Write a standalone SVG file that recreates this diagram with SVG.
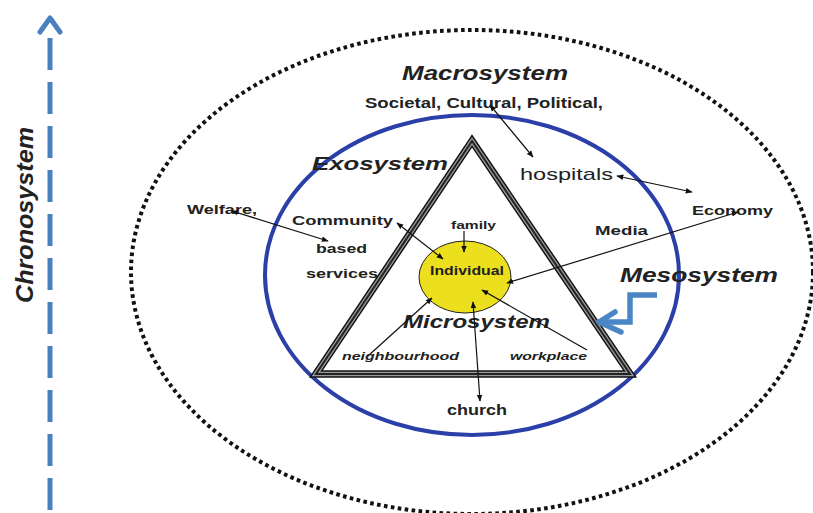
<svg xmlns="http://www.w3.org/2000/svg" width="813" height="513" viewBox="0 0 813 513">
<defs>
<marker id="ah" viewBox="0 0 10 10" refX="9" refY="5" markerWidth="7" markerHeight="7" orient="auto-start-reverse" markerUnits="userSpaceOnUse">
<path d="M0,1 L10,5 L0,9 Z" fill="#111"/>
</marker>
</defs>
<style>
text{font-family:"Liberation Sans",Arial,sans-serif;fill:#222;}
.b{font-weight:bold;}
.bi{font-weight:bold;font-style:italic;}
.con{stroke:#111;stroke-width:1.2;fill:none;marker-end:url(#ah);}
.dbl{marker-start:url(#ah);}
</style>
<rect width="813" height="513" fill="#fff"/>
<g id="chronosystem">
<line x1="50" y1="510" x2="50" y2="28" stroke="#4a80bf" stroke-width="5" stroke-dasharray="32 12"/>
<polyline points="40,32 50,18 60,32" fill="none" stroke="#4a80bf" stroke-width="5" stroke-linejoin="round" stroke-linecap="round"/>
<text class="bi" transform="translate(33,303) rotate(-90)" font-size="24" textLength="176" lengthAdjust="spacingAndGlyphs">Chronosystem</text>
</g>
<g id="macrosystem">
<ellipse cx="472" cy="272" rx="341" ry="242" fill="none" stroke="#111" stroke-width="4" stroke-dasharray="3.6 3.4"/>
<text class="bi" x="402" y="80" font-size="20" textLength="166" lengthAdjust="spacingAndGlyphs">Macrosystem</text>
<text class="b" x="365" y="108" font-size="14" textLength="238" lengthAdjust="spacingAndGlyphs">Societal, Cultural, Political,</text>
<text x="520" y="180" font-size="17" textLength="93" lengthAdjust="spacingAndGlyphs">hospitals</text>
<text class="b" x="187" y="214" font-size="13.5" textLength="70" lengthAdjust="spacingAndGlyphs">Welfare,</text>
<text class="b" x="692" y="215" font-size="13.5" textLength="81" lengthAdjust="spacingAndGlyphs">Economy</text>
</g>
<g id="exosystem">
<ellipse cx="472" cy="275" rx="207" ry="160" fill="none" stroke="#2b3fa8" stroke-width="4"/>
<text class="bi" x="312" y="170" font-size="18" textLength="136" lengthAdjust="spacingAndGlyphs">Exosystem</text>
<text class="b" x="292" y="225" font-size="13.5" textLength="101" lengthAdjust="spacingAndGlyphs">Community</text>
<text class="b" x="316" y="253" font-size="13.5" textLength="51" lengthAdjust="spacingAndGlyphs">based</text>
<text class="b" x="306" y="278" font-size="13.5" textLength="72" lengthAdjust="spacingAndGlyphs">services</text>
<text class="b" x="595" y="235" font-size="13.5" textLength="53" lengthAdjust="spacingAndGlyphs">Media</text>
</g>
<g id="microsystem">
<polygon points="472,141 316,374 630,374" fill="none" stroke="#111" stroke-width="7.5" stroke-linejoin="miter"/>
<polygon points="472,141 316,374 630,374" fill="none" stroke="#9a9a9a" stroke-width="4.6" stroke-linejoin="miter"/>
<polygon points="472,141 316,374 630,374" fill="none" stroke="#222" stroke-width="2" stroke-linejoin="miter"/>
<text class="bi" x="403" y="328" font-size="18" textLength="147" lengthAdjust="spacingAndGlyphs">Microsystem</text>
<text class="b" x="451" y="229" font-size="11" textLength="45" lengthAdjust="spacingAndGlyphs">family</text>
<text class="bi" x="342" y="360" font-size="11.5" textLength="117" lengthAdjust="spacingAndGlyphs">neighbourhood</text>
<text class="bi" x="510" y="360" font-size="11.5" textLength="77" lengthAdjust="spacingAndGlyphs">workplace</text>
<text class="b" x="447" y="415" font-size="14" textLength="60" lengthAdjust="spacingAndGlyphs">church</text>
</g>
<g id="individual">
<ellipse cx="465" cy="277" rx="46" ry="36" fill="#ecdf1e" stroke="#222" stroke-width="1"/>
<text class="b" x="430" y="275" font-size="12.5" textLength="74" lengthAdjust="spacingAndGlyphs">Individual</text>
</g>
<g id="mesosystem">
<text class="bi" x="620" y="282" font-size="20" textLength="158" lengthAdjust="spacingAndGlyphs">Mesosystem</text>
<polyline points="657,295 630,295 630,322 600,322" fill="none" stroke="#4a86c5" stroke-width="5.5" stroke-linejoin="miter"/>
<polyline points="615,312 599,322 621,332" fill="none" stroke="#4a86c5" stroke-width="5.5" stroke-linecap="round" stroke-linejoin="round"/>
</g>
<g id="connectors">
<line class="con dbl" x1="490" y1="105" x2="533" y2="157"/>
<line class="con dbl" x1="617" y1="176" x2="692" y2="192"/>
<line class="con dbl" x1="232" y1="211" x2="328" y2="241"/>
<line class="con dbl" x1="397" y1="223" x2="443" y2="259"/>
<line class="con" x1="464" y1="231" x2="464" y2="252"/>
<line class="con dbl" x1="738" y1="212" x2="507" y2="283"/>
<line class="con" x1="368" y1="356" x2="432" y2="298"/>
<line class="con" x1="587" y1="350" x2="482" y2="290"/>
<line class="con dbl" x1="473" y1="302" x2="480" y2="401"/>
</g>
</svg>
